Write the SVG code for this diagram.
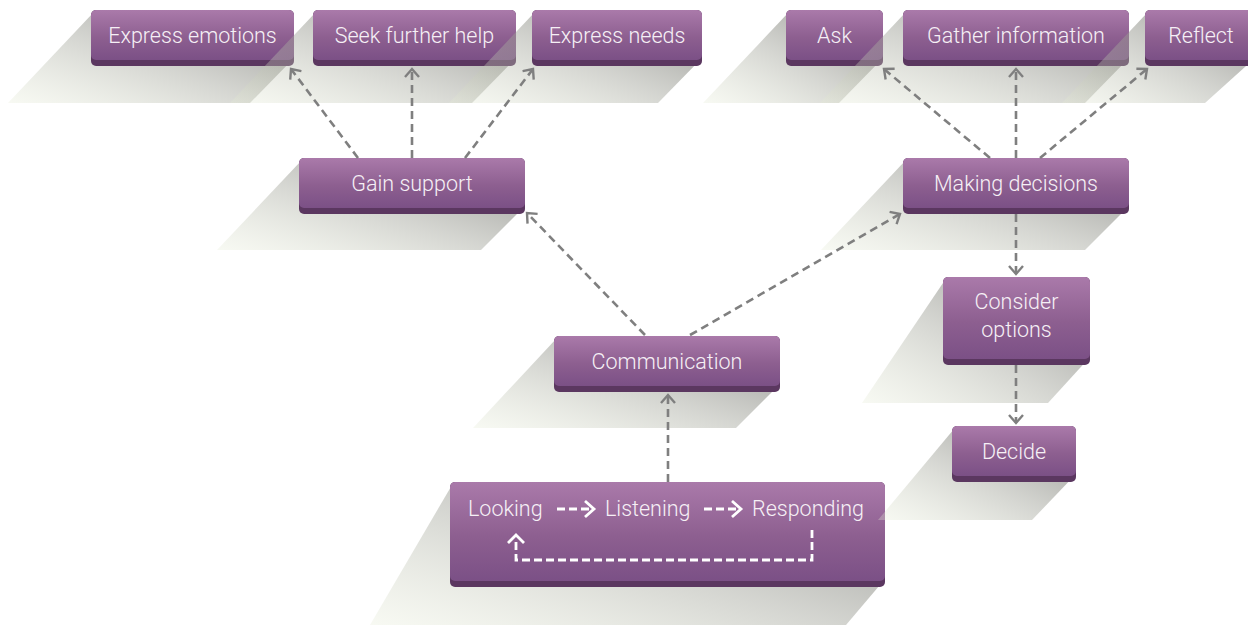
<svg xmlns="http://www.w3.org/2000/svg" width="1248" height="625" viewBox="0 0 1248 625">
<defs>
<linearGradient id="boxg" x1="0" y1="0" x2="0" y2="1">
<stop offset="0" stop-color="#aa7aaa"/>
<stop offset="0.55" stop-color="#8d5f90"/>
<stop offset="1" stop-color="#7b5086"/>
</linearGradient>
<linearGradient id="shd" x1="1" y1="0.1" x2="0" y2="1">
<stop offset="0" stop-color="#666662" stop-opacity="0.68"/>
<stop offset="0.5" stop-color="#a0a298" stop-opacity="0.45"/>
<stop offset="1" stop-color="#e6ecd6" stop-opacity="0.3"/>
</linearGradient>
<marker id="ah" viewBox="0 0 14 16" refX="10" refY="8" markerWidth="14" markerHeight="16" markerUnits="userSpaceOnUse" orient="auto">
<path d="M2,1 L10,8 L2,15" fill="none" stroke="#7f7f7f" stroke-width="2.4"/>
</marker>
<style>
.sh{fill:url(#shd)}
.bb{fill:#5b3760}
.bx{fill:url(#boxg)}
.t{font-family:Roboto,"Liberation Sans",sans-serif;font-weight:300;font-size:21.5px;fill:#f6f0f6;text-anchor:middle}
.ts{text-anchor:start}
.c{fill:none;stroke:#7f7f7f;stroke-width:2.6;stroke-dasharray:8,5;marker-end:url(#ah)}
.w{fill:none;stroke:#ffffff;stroke-width:2.8}
.wd{stroke-dasharray:8,4}
</style>
</defs>
<rect width="1248" height="625" fill="#ffffff"/>

<g id="express-emotions">
<polygon class="sh" points="93,13 8,103 250,103 294,58 292,13"/>
<rect class="bb" x="91" y="10" width="203" height="56" rx="5"/>
<rect class="bx" x="91" y="10" width="203" height="50" rx="5"/>
<text class="t" x="192.5" y="43">Express emotions</text>
</g>
<g id="seek-further-help">
<polygon class="sh" points="315,13 230,103 472,103 516,58 514,13"/>
<rect class="bb" x="313" y="10" width="203" height="56" rx="5"/>
<rect class="bx" x="313" y="10" width="203" height="50" rx="5"/>
<text class="t" x="414.5" y="43">Seek further help</text>
</g>
<g id="express-needs">
<polygon class="sh" points="534,13 449,103 658,103 702,58 700,13"/>
<rect class="bb" x="532" y="10" width="170" height="56" rx="5"/>
<rect class="bx" x="532" y="10" width="170" height="50" rx="5"/>
<text class="t" x="617" y="43">Express needs</text>
</g>
<g id="ask">
<polygon class="sh" points="788,13 703,103 839,103 883,58 881,13"/>
<rect class="bb" x="786" y="10" width="97" height="56" rx="5"/>
<rect class="bx" x="786" y="10" width="97" height="50" rx="5"/>
<text class="t" x="834.5" y="43">Ask</text>
</g>
<g id="gather-information">
<polygon class="sh" points="905,13 820,103 1085,103 1129,58 1127,13"/>
<rect class="bb" x="903" y="10" width="226" height="56" rx="5"/>
<rect class="bx" x="903" y="10" width="226" height="50" rx="5"/>
<text class="t" x="1016" y="43">Gather information</text>
</g>
<g id="reflect">
<polygon class="sh" points="1147,13 1062,103 1205,103 1255,58 1255,13"/>
<rect class="bb" x="1145" y="10" width="115" height="56" rx="5"/>
<rect class="bx" x="1145" y="10" width="115" height="50" rx="5"/>
<text class="t" x="1201" y="43">Reflect</text>
</g>
<g id="gain-support">
<polygon class="sh" points="301,161 217,250 481,250 525,206 523,161"/>
<rect class="bb" x="299" y="158" width="226" height="56" rx="5"/>
<rect class="bx" x="299" y="158" width="226" height="50" rx="5"/>
<text class="t" x="412" y="191">Gain support</text>
</g>
<g id="making-decisions">
<polygon class="sh" points="905,161 821,250 1085,250 1129,206 1127,161"/>
<rect class="bb" x="903" y="158" width="226" height="56" rx="5"/>
<rect class="bx" x="903" y="158" width="226" height="50" rx="5"/>
<text class="t" x="1016" y="191">Making decisions</text>
</g>
<g id="consider-options">
<polygon class="sh" points="945,280 862,403 1048,403 1090,357 1088,280"/>
<rect class="bb" x="943" y="277" width="147" height="88" rx="5"/>
<rect class="bx" x="943" y="277" width="147" height="82" rx="5"/>
<text class="t" x="1016.5" y="309">Consider</text>
<text class="t" x="1016.5" y="337">options</text>
</g>
<g id="communication">
<polygon class="sh" points="556,339 473,428 736,428 780,384 778,339"/>
<rect class="bb" x="554" y="336" width="226" height="56" rx="5"/>
<rect class="bx" x="554" y="336" width="226" height="50" rx="5"/>
<text class="t" x="667" y="369">Communication</text>
</g>
<g id="looking-listening-responding">
<polygon class="sh" points="452,485 370,625 846,625 885,579 883,485"/>
<rect class="bb" x="450" y="482" width="435" height="105" rx="5"/>
<rect class="bx" x="450" y="482" width="435" height="99" rx="5"/>
<text class="t ts" x="468" y="516">Looking</text>
<text class="t ts" x="605" y="516">Listening</text>
<text class="t ts" x="752" y="516">Responding</text>
<path class="w wd" d="M557,509 H590"/>
<path class="w" d="M585,501 L594,509 L585,517"/>
<path class="w wd" d="M704,509 H737"/>
<path class="w" d="M732,501 L741,509 L732,517"/>
<path class="w wd" d="M812,530 V560 H516 V540"/>
<path class="w" d="M508,543 L516,535 L524,543"/>
</g>
<g id="decide">
<polygon class="sh" points="954,429 878,520 1032,520 1076,474 1074,429"/>
<rect class="bb" x="952" y="426" width="124" height="56" rx="5"/>
<rect class="bx" x="952" y="426" width="124" height="50" rx="5"/>
<text class="t" x="1014" y="459">Decide</text>
</g>

<g id="connectors">
<path class="c" d="M358,158 L291,69"/>
<path class="c" d="M412,158 V69"/>
<path class="c" d="M465,158 L533,69"/>
<path class="c" d="M990,158 L884,69"/>
<path class="c" d="M1016,158 V69"/>
<path class="c" d="M1040,158 L1147,69"/>
<path class="c" d="M1016,214 V274"/>
<path class="c" d="M1016,365 V423"/>
<path class="c" d="M645,335 L527,213"/>
<path class="c" d="M690,335 L900,214"/>
<path class="c" d="M668,482 V395"/>
</g>
</svg>
